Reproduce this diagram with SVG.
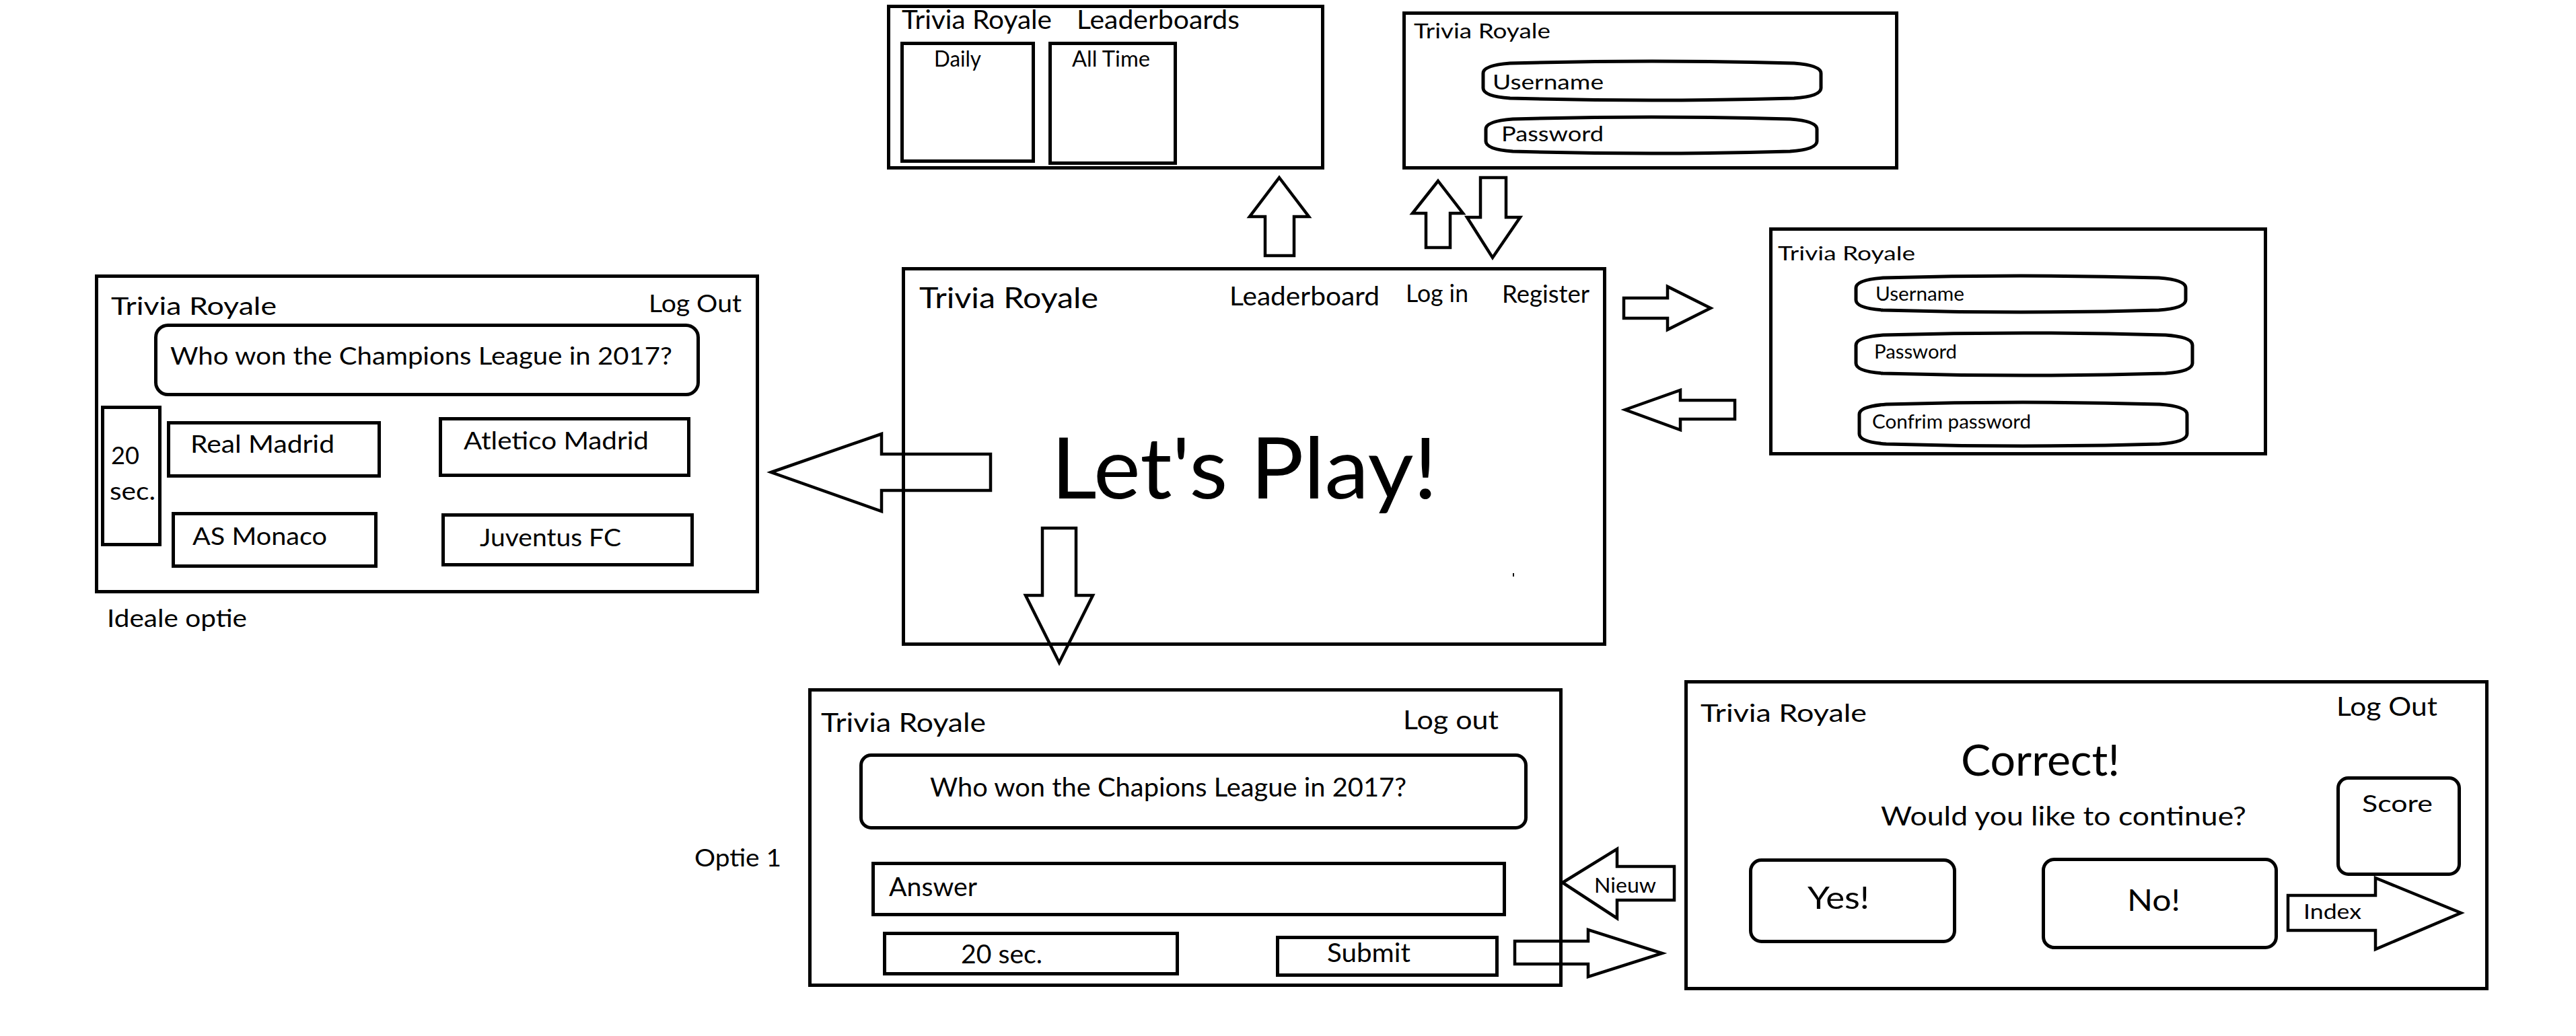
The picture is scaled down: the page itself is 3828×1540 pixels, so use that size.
<svg xmlns="http://www.w3.org/2000/svg" width="3828" height="1540" viewBox="0 0 3828 1540">
<style>
.box{fill:none;stroke:#000;stroke-width:5}
.fld{fill:none;stroke:#000;stroke-width:5;stroke-linejoin:round}
.arr{fill:none;stroke:#000;stroke-width:4.5;stroke-linejoin:miter}
text{font-family:Lato,"Liberation Sans",sans-serif;fill:#000}
</style>
<rect x="0" y="0" width="3828" height="1540" fill="#fff"/>

<g id="leaderboards">
<rect class="box" x="1320.5" y="9.5" width="645" height="240"/>
<text x="1340" y="43" font-size="39" textLength="223" lengthAdjust="spacingAndGlyphs">Trivia Royale</text>
<text x="1600" y="43" font-size="39" textLength="242" lengthAdjust="spacingAndGlyphs">Leaderboards</text>
<rect class="box" x="1340.5" y="64.5" width="195" height="175"/>
<text x="1388" y="99" font-size="32" textLength="70" lengthAdjust="spacingAndGlyphs">Daily</text>
<rect class="box" x="1560.5" y="64.5" width="186" height="178"/>
<text x="1593" y="99" font-size="32" textLength="116" lengthAdjust="spacingAndGlyphs">All Time</text>
</g>

<g id="login">
<rect class="box" x="2086.5" y="19.5" width="732" height="230"/>
<text x="2101" y="57" font-size="31" textLength="203" lengthAdjust="spacingAndGlyphs">Trivia Royale</text>
<path class="fld" d="M2204,109 Q2204,97 2244,94 Q2455,88 2666,94 Q2706,97 2706,109 L2706,131 Q2706,143 2666,146 Q2455,152 2244,146 Q2204,143 2204,131 Z"/>
<text x="2218" y="133" font-size="30" textLength="165" lengthAdjust="spacingAndGlyphs">Username</text>
<path class="fld" d="M2208,192 Q2208,180 2248,177 Q2454,171 2660,177 Q2700,180 2700,192 L2700,210 Q2700,222 2660,225 Q2454,231 2248,225 Q2208,222 2208,210 Z"/>
<text x="2231" y="210" font-size="30" textLength="152" lengthAdjust="spacingAndGlyphs">Password</text>
</g>

<g id="register">
<rect class="box" x="2631.5" y="340.5" width="735" height="334"/>
<text x="2642" y="387" font-size="29" textLength="204" lengthAdjust="spacingAndGlyphs">Trivia Royale</text>
<path class="fld" d="M2758,428 Q2758,416 2798,413 Q3003,407 3208,413 Q3248,416 3248,428 L3248,446 Q3248,458 3208,461 Q3003,467 2798,461 Q2758,458 2758,446 Z"/>
<text x="2787" y="447" font-size="28" textLength="132" lengthAdjust="spacingAndGlyphs">Username</text>
<path class="fld" d="M2758,513 Q2758,501 2798,498 Q3008,492 3218,498 Q3258,501 3258,513 L3258,540 Q3258,552 3218,555 Q3008,561 2798,555 Q2758,552 2758,540 Z"/>
<text x="2785" y="533" font-size="28" textLength="123" lengthAdjust="spacingAndGlyphs">Password</text>
<path class="fld" d="M2763,616 Q2763,604 2803,601 Q3006,595 3209,601 Q3250,604 3250,616 L3250,645 Q3250,657 3209,660 Q3006,666 2803,660 Q2763,657 2763,645 Z"/>
<text x="2782" y="637" font-size="28" textLength="236" lengthAdjust="spacingAndGlyphs">Confrim password</text>
</g>

<g id="home">
<rect class="box" x="1342.5" y="399.5" width="1042" height="558"/>
<text x="1366" y="458" font-size="43" textLength="266" lengthAdjust="spacingAndGlyphs">Trivia Royale</text>
<text x="1827" y="454" font-size="38" textLength="223" lengthAdjust="spacingAndGlyphs">Leaderboard</text>
<text x="2089" y="449" font-size="36" textLength="93" lengthAdjust="spacingAndGlyphs">Log in</text>
<text x="2232" y="450" font-size="36" textLength="130" lengthAdjust="spacingAndGlyphs">Register</text>
<text x="1562" y="741" font-size="126" textLength="574" lengthAdjust="spacingAndGlyphs">Let's Play!</text>
<rect x="2248" y="852" width="2" height="5" fill="#000"/>
</g>

<g id="ideale">
<rect class="box" x="143.5" y="410.5" width="982" height="469"/>
<text x="165" y="468" font-size="37" textLength="246" lengthAdjust="spacingAndGlyphs">Trivia Royale</text>
<text x="964" y="464" font-size="37" textLength="138" lengthAdjust="spacingAndGlyphs">Log Out</text>
<rect class="box" x="231.5" y="483.5" width="806" height="103" rx="18"/>
<text x="253" y="542" font-size="37" textLength="746" lengthAdjust="spacingAndGlyphs">Who won the Champions League in 2017?</text>
<rect class="box" x="152.5" y="605.5" width="85" height="204"/>
<text x="165" y="690" font-size="36" textLength="42" lengthAdjust="spacingAndGlyphs">20</text>
<text x="163" y="743" font-size="36" textLength="68" lengthAdjust="spacingAndGlyphs">sec.</text>
<rect class="box" x="250.5" y="628.5" width="313" height="79"/>
<text x="283" y="673" font-size="37" textLength="214" lengthAdjust="spacingAndGlyphs">Real Madrid</text>
<rect class="box" x="654.5" y="622.5" width="369" height="84"/>
<text x="689" y="668" font-size="37" textLength="275" lengthAdjust="spacingAndGlyphs">Atletico Madrid</text>
<rect class="box" x="257.5" y="763.5" width="301" height="78"/>
<text x="286" y="810" font-size="37" textLength="200" lengthAdjust="spacingAndGlyphs">AS Monaco</text>
<rect class="box" x="658.5" y="765.5" width="370" height="74"/>
<text x="713" y="812" font-size="37" textLength="210" lengthAdjust="spacingAndGlyphs">Juventus FC</text>
<text x="159" y="932" font-size="36" textLength="208" lengthAdjust="spacingAndGlyphs">Ideale optie</text>
</g>

<g id="optie1">
<rect class="box" x="1203.5" y="1025.5" width="1116" height="439"/>
<text x="1220" y="1088" font-size="39" textLength="245" lengthAdjust="spacingAndGlyphs">Trivia Royale</text>
<text x="2085" y="1084" font-size="38" textLength="142" lengthAdjust="spacingAndGlyphs">Log out</text>
<rect class="box" x="1279.5" y="1122.5" width="988" height="108" rx="15"/>
<text x="1382" y="1184" font-size="39" textLength="708" lengthAdjust="spacingAndGlyphs">Who won the Chapions League in 2017?</text>
<rect class="box" x="1297.5" y="1283.5" width="938" height="76"/>
<text x="1321" y="1332" font-size="38" textLength="131" lengthAdjust="spacingAndGlyphs">Answer</text>
<rect class="box" x="1314.5" y="1387.5" width="435" height="60"/>
<text x="1428" y="1432" font-size="38" textLength="121" lengthAdjust="spacingAndGlyphs">20 sec.</text>
<rect class="box" x="1898.5" y="1393.5" width="326" height="56"/>
<text x="1972" y="1430" font-size="38" textLength="124" lengthAdjust="spacingAndGlyphs">Submit</text>
<text x="1032" y="1288" font-size="37" textLength="129" lengthAdjust="spacingAndGlyphs">Optie 1</text>
</g>

<g id="correct">
<rect class="box" x="2505.5" y="1013.5" width="1190" height="456"/>
<text x="2527" y="1073" font-size="37" textLength="247" lengthAdjust="spacingAndGlyphs">Trivia Royale</text>
<text x="3472" y="1064" font-size="38" textLength="150" lengthAdjust="spacingAndGlyphs">Log Out</text>
<text x="2914" y="1153" font-size="63" textLength="236" lengthAdjust="spacingAndGlyphs">Correct!</text>
<text x="2795" y="1227" font-size="38" textLength="543" lengthAdjust="spacingAndGlyphs">Would you like to continue?</text>
<rect class="box" x="3474.5" y="1156.5" width="180" height="143" rx="15"/>
<text x="3510" y="1207" font-size="35" textLength="105" lengthAdjust="spacingAndGlyphs">Score</text>
<rect class="box" x="2601.5" y="1278.5" width="303" height="121" rx="16"/>
<text x="2686" y="1351" font-size="46" textLength="92" lengthAdjust="spacingAndGlyphs">Yes!</text>
<rect class="box" x="3036.5" y="1277.5" width="346" height="131" rx="16"/>
<text x="3161" y="1354" font-size="45" textLength="79" lengthAdjust="spacingAndGlyphs">No!</text>
</g>

<g id="connectors">
<polygon class="arr" points="1901,264 1945,322 1923,322 1923,380 1880,380 1880,322 1857,322"/>
<polygon class="arr" points="2137,269 2174,317 2155,317 2155,368 2119,368 2119,317 2099,317"/>
<polygon class="arr" points="2200,264 2238,264 2238,323 2259,323 2218,383 2180,323 2200,323"/>
<polygon class="arr" points="2413,443 2478,443 2478,426 2542,458 2478,490 2478,473 2413,473"/>
<polygon class="arr" points="2415,609 2497,580 2497,595 2578,595 2578,623 2497,623 2497,639"/>
<polygon class="arr" points="1146,702 1310,645 1310,675 1472,675 1472,729 1310,729 1310,760"/>
<polygon class="arr" points="1549,785 1599,785 1599,885 1624,885 1574,985 1524,885 1549,885"/>
<polygon class="arr" points="2251,1399 2360,1399 2360,1382 2470,1417 2360,1452 2360,1433 2251,1433"/>
<polygon class="arr" points="2322,1312 2403,1262 2403,1288 2488,1288 2488,1338 2403,1338 2403,1365"/>
<text x="2369" y="1327" font-size="31" textLength="92" lengthAdjust="spacingAndGlyphs">Nieuw</text>
<polygon class="arr" points="3400,1331 3530,1331 3530,1305 3657,1357 3530,1411 3530,1383 3400,1383"/>
<text x="3423" y="1366" font-size="31" textLength="86" lengthAdjust="spacingAndGlyphs">Index</text>
</g>
</svg>
